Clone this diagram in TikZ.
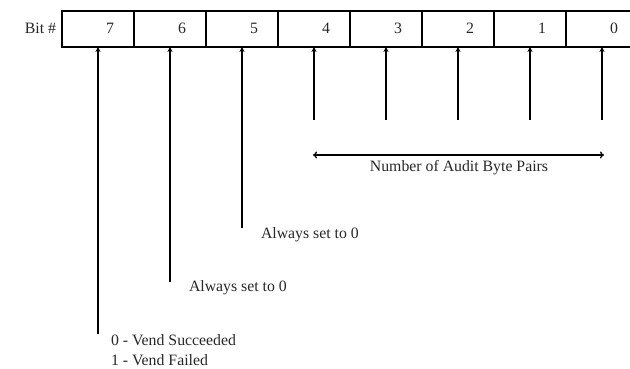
\documentclass[tikz,border=0pt]{standalone}
\usepackage{fontspec}
\setmainfont{Liberation Serif}
\usetikzlibrary{arrows.meta}

\tikzset{
  cell/.style={draw=drawColor,line width=1.3pt,minimum width=72pt,minimum height=36pt,inner sep=0pt,outer sep=0pt},
  bitnum/.style={text=textColor,anchor=center,inner sep=0pt,outer sep=0pt},
  note/.style={text=textColor,anchor=west,inner sep=0pt,outer sep=0pt},
  bitarrow/.style={draw=drawColor,line width=1.3pt,-{Stealth[length=5pt,width=5pt]}},
  spanarrow/.style={draw=drawColor,line width=1.3pt,{To[length=4pt,width=7pt]}-{To[length=4pt,width=7pt]}}
}

\begin{document}
\begin{tikzpicture}[x=1pt,y=1pt,font=\fontsize{15.8}{18}\selectfont]
\definecolor{fillColor}{RGB}{255,255,255}
\definecolor{drawColor}{RGB}{0,0,0}
\definecolor{textColor}{RGB}{40,40,40}
\path[use as bounding box,fill=fillColor] (0,0) rectangle (630,369);
\clip (0,0) rectangle (630,369);

\node[cell] (c7) at ( 98,340) {};
\node[cell] (c6) at (170,340) {};
\node[cell] (c5) at (242,340) {};
\node[cell] (c4) at (314,340) {};
\node[cell] (c3) at (386,340) {};
\node[cell] (c2) at (458,340) {};
\node[cell] (c1) at (530,340) {};
\node[cell] (c0) at (602,340) {};

\node[bitnum] (n7) at (110,341) {7};
\node[bitnum] (n6) at (182,341) {6};
\node[bitnum] (n5) at (254,341) {5};
\node[bitnum] (n4) at (326,341) {4};
\node[bitnum] (n3) at (398,341) {3};
\node[bitnum] (n2) at (470,341) {2};
\node[bitnum] (n1) at (542,341) {1};
\node[bitnum] (n0) at (614,341) {0};

\node[text=textColor,anchor=east,inner sep=0pt,outer sep=0pt] (bitlbl) at (56,341) {Bit \#};

\coordinate (e7) at ( 98, 35);
\coordinate (e6) at (170, 87);
\coordinate (e5) at (242,141);
\coordinate (e4) at (314,249);
\coordinate (e3) at (386,249);
\coordinate (e2) at (458,249);
\coordinate (e1) at (530,249);
\coordinate (e0) at (602,249);

\draw[bitarrow] (e7) -- (c7.south);
\draw[bitarrow] (e6) -- (c6.south);
\draw[bitarrow] (e5) -- (c5.south);
\draw[bitarrow] (e4) -- (c4.south);
\draw[bitarrow] (e3) -- (c3.south);
\draw[bitarrow] (e2) -- (c2.south);
\draw[bitarrow] (e1) -- (c1.south);
\draw[bitarrow] (e0) -- (c0.south);

\coordinate (sl) at (313,214);
\coordinate (sr) at (604,214);
\draw[spanarrow] (sl) -- (sr);
\node[text=textColor,anchor=center,inner sep=0pt,outer sep=0pt] (pairs) at (459,201) {Number of Audit Byte Pairs};

\node[note] (a5) at (261,134) {Always set to 0};
\node[note] (a6) at (189, 81) {Always set to 0};
\node[note] (v0) at (111, 29) {0 - Vend Succeeded};
\node[note] (v1) at (111,  9) {1 - Vend Failed};
\end{tikzpicture}
\end{document}
